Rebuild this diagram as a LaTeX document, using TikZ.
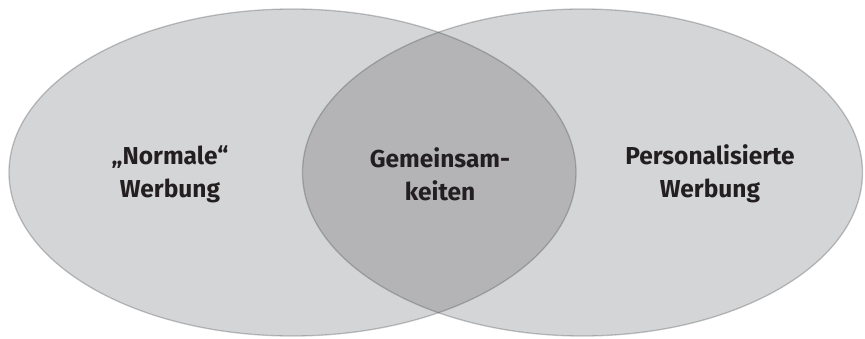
\documentclass[tikz,border=0pt]{standalone}
\usepackage{fontspec}
\setmainfont{Fira Sans}
\usetikzlibrary{shapes.geometric}
\definecolor{colSet}{RGB}{70,72,77}
\definecolor{colText}{RGB}{35,31,32}
\tikzstyle{setEll}=[ellipse, draw=colSet, fill=colSet, fill opacity=0.23, draw opacity=0.32, line width=1.3pt, inner sep=0pt]
\tikzstyle{setText}=[align=center, text=colText, font=\bfseries\fontsize{24.5}{33}\selectfont]

\begin{document}
\begin{tikzpicture}[x=1pt,y=1pt]
			\useasboundingbox (0,0) rectangle (865,338);

			% Mengen
			\node[setEll, minimum width=567pt, minimum height=327pt] (links) at (292.5,165.5) {};
			\node[setEll, minimum width=560pt, minimum height=327pt] (rechts) at (582.5,165.5) {};

			% Beschriftung
			\node[setText] (normal) at (170,164) {„Normale“\\Werbung};
			\node[setText] (gemein) at (440,164) {Gemeinsam-\\keiten};
			\node[setText] (person) at (710,164) {Personalisierte\\Werbung};
\end{tikzpicture}
\end{document}
